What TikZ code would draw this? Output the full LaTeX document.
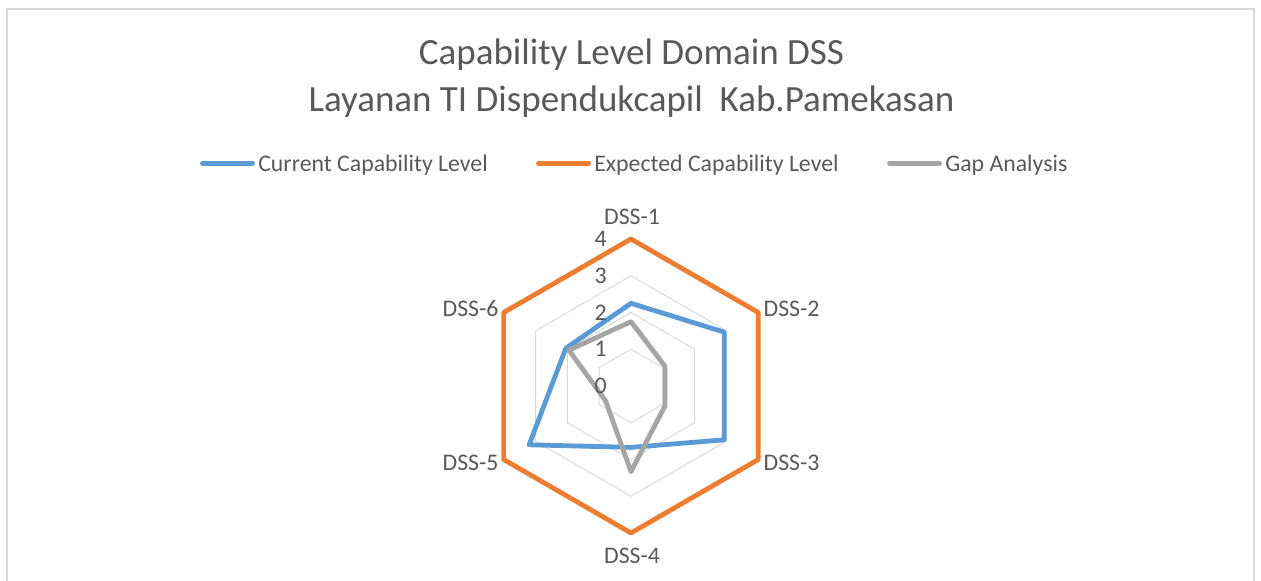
\documentclass[tikz,border=0pt]{standalone}
\usepackage{fontspec}
\setmainfont{Carlito}

\definecolor{txtgray}{HTML}{595959}
\definecolor{gridgray}{HTML}{D9D9D9}
\definecolor{curblue}{HTML}{5B9BD5}
\definecolor{exporange}{HTML}{ED7D31}
\definecolor{gapgray}{HTML}{A5A5A5}
\newcommand{\unitlen}{36.75}

\begin{document}
\begin{tikzpicture}[x=0.75pt, y=0.75pt, text=txtgray,
    lbl/.style={font=\fontsize{17.85}{20}\selectfont, inner sep=0pt},
    ttl/.style={font=\fontsize{27.75}{30}\selectfont, inner sep=0pt, anchor=base},
    grid/.style={draw=gridgray, line width=0.75pt},
    series/.style={line width=3.6pt, line join=round},
    legline/.style={line width=3.6pt, line cap=round}]
    \useasboundingbox (0,0) rectangle (1261,581);
    % chart frame, open at the bottom
    \draw[gridgray, line width=1.5pt] (7,0) |- (1254.3,572) -- (1254.3,0);

    \node[ttl] (title1) at (631.5,516) {Capability Level Domain DSS};
    \node[ttl] (title2) at (631.5,469) {Layanan TI Dispendukcapil\ \ Kab.Pamekasan};

    % legend
    \foreach \x/\col/\name in {200/curblue/Current Capability Level, 536/exporange/Expected Capability Level, 887/gapgray/Gap Analysis} {
        \draw[legline, \col] (\x+2.5,417.7) coordinate (a\col) -- ++(50,0) coordinate (b\col);
        \node[lbl, anchor=base west] (t\col) at (\x+58,409.5) {\name};
    }

    \begin{scope}[shift={(631,195)}]
        \foreach \l in {1,2,3}
            \draw[grid] (90:\l*\unitlen) \foreach \a in {30,-30,-90,-150,-210} {-- (\a:\l*\unitlen)} -- cycle;

        \foreach \v [count=\i] in {2.25,2.93,2.93,1.67,3.2,2.05}
            \coordinate (cur\i) at ({150-60*\i}:\v*\unitlen);
        \foreach \v [count=\i] in {4,4,4,4,4,4}
            \coordinate (exp\i) at ({150-60*\i}:\v*\unitlen);
        \foreach \v [count=\i] in {1.75,1.07,1.07,2.33,0.8,1.95}
            \coordinate (gap\i) at ({150-60*\i}:\v*\unitlen);

        \draw[series, curblue] (cur1) -- (cur2) -- (cur3) -- (cur4) -- (cur5) -- (cur6) -- cycle;
        \draw[series, exporange] (exp1) -- (exp2) -- (exp3) -- (exp4) -- (exp5) -- (exp6) -- cycle;
        \draw[series, gapgray] (gap1) -- (gap2) -- (gap3) -- (gap4) -- (gap5) -- (gap6) -- cycle;

        % axis values
        \foreach \n in {0,...,4}
            \node[lbl, anchor=east] (tick\n) at (-24,\n*\unitlen) {\n};

        \foreach \dx/\dy [count=\i] in {1/169.5, 160.5/77, 160.5/-77, 1/-169.5, -160.5/-77, -160.5/77}
            \node[lbl] (dss\i) at (\dx,\dy) {DSS-\i};
    \end{scope}
\end{tikzpicture}
\end{document}
